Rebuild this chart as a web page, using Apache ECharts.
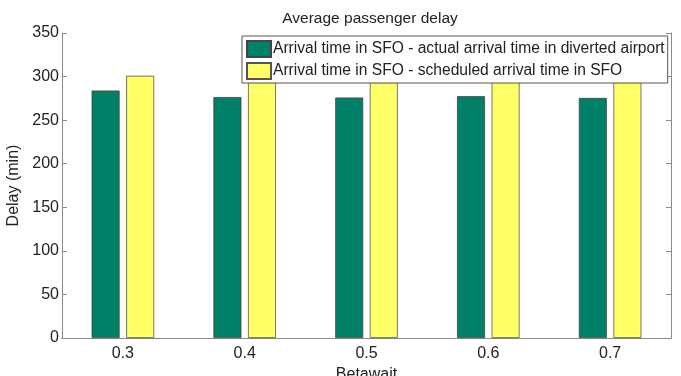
<!DOCTYPE html>
<html><head><meta charset="utf-8">
<script src="https://cdn.jsdelivr.net/npm/echarts@6/dist/echarts.min.js"></script>
<style>html,body{margin:0;padding:0;background:#fff}#c{width:681px;height:376px}</style>
</head><body><div id="c"></div>
<script>
var categories = ['0.3', '0.4', '0.5', '0.6', '0.7'];
var actualDelay = [284, 276.5, 276, 277.5, 275.5];
var scheduledDelay = [301, 293.5, 293.5, 295, 293.5];
var yTicks = [0, 50, 100, 150, 200, 250, 300, 350];
var seriesNames = ['Arrival time in SFO - actual arrival time in diverted airport', 'Arrival time in SFO - scheduled arrival time in SFO'];

var font = 'Liberation Sans, Arial, sans-serif';
var axisColor = '#8a8a8a';
var chart = echarts.init(document.getElementById('c'));
chart.setOption({
  animation: false,
  title: { text: 'Average passenger delay', left: 365, top: 6, textAlign: 'center',
    textStyle: { fontFamily: font, fontSize: 15.5, fontWeight: 'normal', color: '#222' } },
  grid: { left: 62, right: 10, top: 33, bottom: 38, outerBoundsMode: 'none', containLabel: false },
  legend: { orient: 'vertical', left: 242, top: 36, padding: [4, 3, 3, 4], itemGap: 4,
    itemWidth: 24, itemHeight: 16, backgroundColor: '#fff', borderColor: '#555', borderWidth: 1,
    icon: 'rect',
    textStyle: { fontFamily: font, fontSize: 15.6, lineHeight: 16, color: '#222', padding: [0,0,0,-3] }, data: seriesNames },
  xAxis: [{
    type: 'category', data: categories, position: 'bottom', boundaryGap: true,
    name: 'Betawait', nameLocation: 'middle', nameGap: 25,
    nameTextStyle: { fontFamily: font, fontSize: 16, color: '#222' },
    axisLine: { lineStyle: { color: axisColor } },
    axisTick: { inside: true, length: 5, alignWithLabel: true, lineStyle: { color: axisColor } },
    axisLabel: { margin: 8, fontFamily: font, fontSize: 16, color: '#222' },
    splitLine: { show: false }
  }, {
    type: 'category', data: categories, position: 'top', boundaryGap: true,
    axisLine: { lineStyle: { color: axisColor } },
    axisTick: { inside: true, length: 5, alignWithLabel: true, lineStyle: { color: axisColor } },
    axisLabel: { show: false }, splitLine: { show: false }
  }],
  yAxis: [{
    type: 'value', min: 0, max: 350, interval: 50, position: 'left',
    name: 'Delay (min)', nameLocation: 'middle', nameGap: 40,
    nameTextStyle: { fontFamily: font, fontSize: 16, color: '#222' },
    axisLine: { show: true, lineStyle: { color: axisColor } },
    axisTick: { show: true, inside: true, length: 5, lineStyle: { color: axisColor } },
    axisLabel: { margin: 3, fontFamily: font, fontSize: 16, color: '#222',
      formatter: function(v){ return yTicks.indexOf(v) >= 0 ? String(v) : ''; } },
    splitLine: { show: false }
  }, {
    type: 'value', min: 0, max: 350, interval: 50, position: 'right',
    axisLine: { show: true, lineStyle: { color: axisColor } },
    axisTick: { show: true, inside: true, length: 5, lineStyle: { color: axisColor } },
    axisLabel: { show: false }, splitLine: { show: false }
  }],
  series: [{
    name: seriesNames[0], type: 'bar', data: actualDelay, barWidth: 28, barGap: '23.5%',
    itemStyle: { color: '#008066', borderColor: '#444', borderWidth: 0.8 }
  }, {
    name: seriesNames[1], type: 'bar', data: scheduledDelay, barWidth: 28, barGap: '23.5%',
    itemStyle: { color: '#ffff66', borderColor: '#555', borderWidth: 0.8 }
  }]
});
</script></body></html>
